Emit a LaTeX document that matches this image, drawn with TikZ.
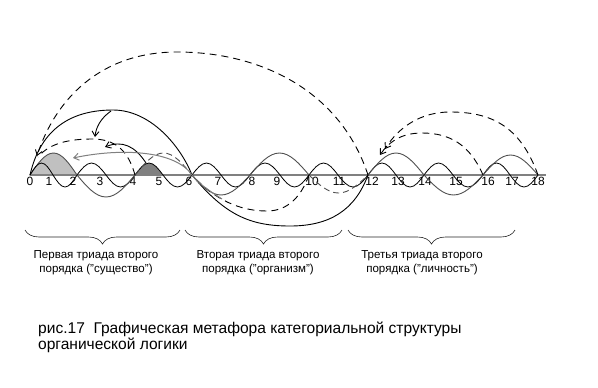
\documentclass[tikz,border=0pt]{standalone}
\usepackage{fontspec}
\setmainfont{Liberation Sans}
\usetikzlibrary{arrows.meta,calc,decorations.pathreplacing}
\definecolor{mfAxis}{HTML}{808080}
\definecolor{mfMid}{HTML}{505050}
\definecolor{mfLight}{HTML}{C0C0C0}
\definecolor{mfDark}{HTML}{808080}
\tikzset{
  axisline/.style={line width=1.5bp, mfAxis},
  smallwave/.style={line width=0.8bp, black},
  midwave/.style={line width=0.9bp, mfMid},
  bigarc/.style={line width=0.9bp, black},
  backarc/.style={line width=0.9bp, black, dash pattern=on 7bp off 5bp},
  hop/.style={-{Straight Barb[length=5bp,width=7bp]}},
  ticklabel/.style={font=\fontsize{12}{13}\selectfont, inner sep=0pt, anchor=north},
  brace/.style={decorate, decoration={brace, mirror, amplitude=14bp}, line width=0.6bp, black!85},
  triadtext/.style={font=\fontsize{11.6}{14}\selectfont, align=center, anchor=north, inner sep=0pt},
  captext/.style={font=\fontsize{15.6}{16}\selectfont, align=left, anchor=north west, inner sep=0pt}
}
\begin{document}
\begin{tikzpicture}[x=1bp, y=-1bp]
  \useasboundingbox (0,0) rectangle (598,387);
  % points on the axis
  \foreach \n/\x in {0/30,1/53,2/77,3/106,4/135,5/163,6/192,7/221,8/250,9/280,
                     10/309,11/338,12/368,13/396,14/424,15/453,16/483,17/510,18/538}
    \coordinate (p\n) at (\x,175);
  \coordinate (axend) at (546,175);

  % filled humps
  \filldraw[fill=mfLight, draw=mfMid, line width=0.9bp]
    (p0) sin ($(p0)!.5!(p2)+(0,-22)$) cos (p2) -- cycle;
  \fill[mfDark] (p4) sin ($(p4)!.5!(p5)+(0,-12)$) cos (p5) -- cycle;

  \draw[axisline] (p0) -- (axend);

  % tick numbers
  \foreach \n/\x in {0/30,1/49,2/73,3/100,4/133,5/159,6/189,7/218,8/252,9/277,
                     10/312,11/339,12/372,13/398,14/425,15/456,16/488,17/512,18/538}
    \node[ticklabel] (n\n) at (\x,177) {\n};

  % small wave
  \foreach \i in {0,...,17}{
    \pgfmathtruncatemacro\j{\i+1}
    \pgfmathsetmacro\h{12*(2*mod(\i,2)-1)}
    \draw[smallwave] (p\i) sin ($(p\i)!.5!(p\j)+(0,\h)$) cos (p\j);
  }

  % middle wave
  \draw[midwave] (p2) sin ($(p2)!.5!(p4)+(0,22)$) cos (p4);
  \draw[midwave, dash pattern=on 6bp off 4bp] (p4) sin ($(p4)!.5!(p6)+(0,-22)$) cos (p6);
  \draw[midwave] (p6) sin ($(p6)!.5!(p8)+(0,20)$) cos (p8)
                      sin ($(p8)!.5!(p10)+(0,-22)$) cos (p10);
  \draw[midwave, dash pattern=on 6bp off 4bp] (p10) sin ($(p10)!.5!(p12)+(0,18)$) cos (p12);
  \draw[midwave] (p12) sin ($(p12)!.5!(p14)+(0,-22)$) cos (p14)
                       sin ($(p14)!.5!(p16)+(0,20)$) cos (p16)
                       sin ($(p16)!.5!(p18)+(0,-20)$) cos (p18);

  % big arcs
  \coordinate (top1) at (113,110);
  \coordinate (bot2) at (290,226);
  \draw[bigarc] (p0) .. controls (38,140) and (60,110) .. (top1)
                     .. controls (150,110) and (180,145) .. (p6);
  \draw[bigarc] (p6) .. controls (225,215) and (250,226) .. (bot2)
                     .. controls (330,226) and (355,210) .. (p12);

  % dashed returns
  \coordinate (ret0) at (37,156);
  \coordinate (ret12a) at (385,149);
  \coordinate (ret12b) at (380,155);
  \coordinate (ret4) at (38,157);
  \draw[backarc, hop] (p12) .. controls (340,90) and (260,52) .. (177,52)
                            .. controls (100,52) and (55,100) .. (ret0);
  \draw[backarc, hop] (p18) .. controls (520,125) and (490,112) .. (450,112)
                            .. controls (420,112) and (398,128) .. (ret12a);
  \draw[backarc, hop] (p16) .. controls (470,145) and (450,133) .. (422,133)
                            .. controls (400,133) and (388,143) .. (ret12b);
  \draw[backarc] (p4) .. controls (128,150) and (115,139) .. (92,139)
                      .. controls (65,139) and (48,145) .. (ret4);
  \draw[backarc] (p10) .. controls (300,200) and (285,211) .. (267,211)
                       .. controls (240,211) and (215,200) .. (p6);

  % solid hops
  \coordinate (tip1) at (95,137);
  \coordinate (hump45) at (146,163);
  \coordinate (tip2) at (105,147);
  \coordinate (tip3) at (73,158);
  \coordinate (low6) at (222,199);
  \draw[bigarc, hop] (111,111) .. controls (101,118) and (96,127) .. (tip1);
  \draw[bigarc, hop] (hump45) .. controls (135,146) and (122,140) .. (tip2);
  \draw[mfAxis, line width=1bp, hop] (low6) .. controls (208,190) and (198,183) .. (p6)
                      .. controls (175,150) and (120,148) .. (tip3);

  % braces
  \draw[brace] (25,230) -- (180,230);
  \draw[brace] (185,230) -- (342,230);
  \draw[brace] (348,230) -- (515,230);

  \node[triadtext] (t1) at (96,250) {Первая триада второго\\ порядка ("существо")};
  \node[triadtext] (t2) at (258,250) {Вторая триада второго\\ порядка ("организм")};
  \node[triadtext] (t3) at (422,250) {Третья триада второго\\ порядка ("личность")};

  \node[captext] (cap) at (38,322) {рис.17\ \ Графическая метафора категориальной структуры\\органической логики};
\end{tikzpicture}
\end{document}
